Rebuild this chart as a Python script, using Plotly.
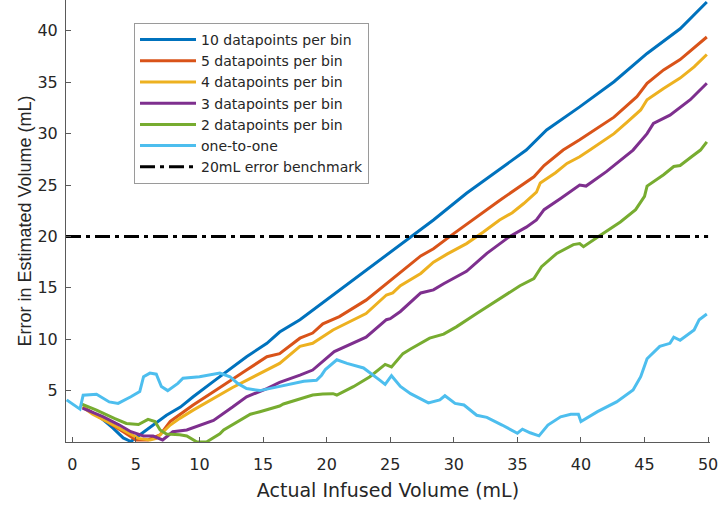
import plotly.graph_objects as go

# ---- data ----
x_10 = [0.8, 2.2, 3.2, 4.0, 4.6, 5.2, 6.1, 7.4, 8.5, 9.5, 11.1, 12.6, 13.7, 15.3, 16.3, 17.9,
        20.5, 23.1, 25.2, 26.6, 28.4, 31.0, 33.6, 35.7, 37.3, 39.9, 42.6, 45.2, 47.8, 49.9]
y_10 = [3.4, 2.4, 1.35, 0.4, 0.05, 0.6, 1.35, 2.6, 3.4, 4.4, 5.9, 7.3, 8.3, 9.6, 10.7, 11.9,
        14.3, 16.7, 18.7, 20.0, 21.6, 24.2, 26.5, 28.4, 30.35, 32.6, 35.05, 37.8, 40.2, 42.8]

x_5 = [0.8, 1.6, 4.0, 5.0, 5.95, 6.9, 7.7, 8.45, 9.5, 11.1, 12.6, 13.7, 15.3, 16.3, 17.9, 18.9,
       19.7, 21.0, 23.1, 25.2, 27.4, 28.4, 29.8, 33.6, 36.3, 37.1, 38.6, 39.9, 42.6, 44.4, 45.2,
       46.5, 47.8, 49.9]
y_5 = [3.4, 2.85, 1.0, 0.2, 0.2, 0.7, 2.0, 2.7, 3.6, 4.9, 6.15, 7.0, 8.3, 8.6, 10.1, 10.6,
       11.5, 12.2, 13.8, 15.9, 18.1, 18.8, 20.1, 23.5, 25.8, 26.9, 28.4, 29.4, 31.6, 33.6, 34.9,
       36.2, 37.2, 39.4]

x_4 = [0.8, 1.6, 3.0, 4.25, 5.2, 6.1, 6.6, 7.7, 8.45, 9.5, 11.1, 12.6, 13.7, 15.0, 16.3, 17.9,
       18.9, 20.5, 22.1, 23.1, 24.7, 25.2, 25.8, 27.4, 28.4, 29.5, 31.0, 32.3, 33.6, 34.6, 35.5,
       36.5, 36.8, 38.0, 38.9, 39.9, 40.7, 41.6, 42.6, 43.7, 44.7, 45.2, 46.5, 47.8, 48.9, 49.9]
y_4 = [3.4, 2.7, 1.8, 1.0, 0.35, 0.2, 0.35, 1.65, 2.3, 3.1, 4.25, 5.3, 6.0, 6.8, 7.65, 9.3,
       9.6, 10.9, 11.9, 12.5, 14.3, 14.5, 15.2, 16.4, 17.5, 18.3, 19.3, 20.4, 21.6, 22.3, 23.2,
       24.3, 25.2, 26.2, 27.1, 27.75, 28.4, 29.2, 30.0, 31.2, 32.3, 33.3, 34.4, 35.4, 36.5, 37.7]

x_3 = [0.8, 2.4, 3.7, 4.6, 5.6, 6.35, 7.1, 7.9, 9.0, 10.0, 11.1, 12.6, 13.7, 15.3, 16.3, 17.9,
       18.9, 20.6, 22.6, 23.1, 24.7, 25.0, 25.8, 27.4, 28.4, 29.2, 31.0, 32.6, 34.4, 35.7, 36.5,
       37.1, 38.4, 39.9, 40.4, 42.0, 44.1, 45.2, 45.7, 47.0, 48.6, 49.9]
y_3 = [3.3, 2.46, 1.65, 1.0, 0.58, 0.58, 0.2, 1.0, 1.17, 1.65, 2.1, 3.4, 4.4, 5.2, 5.8, 6.5,
       7.0, 8.8, 9.9, 10.2, 11.9, 12.0, 12.7, 14.5, 14.8, 15.4, 16.6, 18.35, 20.0, 20.9, 21.6,
       22.6, 23.7, 25.0, 24.9, 26.3, 28.4, 30.0, 31.0, 31.8, 33.3, 34.9]

x_2 = [0.7, 1.9, 3.3, 4.25, 5.2, 5.95, 6.5, 6.9, 7.4, 8.45, 9.0, 9.8, 10.55, 11.6, 11.9, 13.7,
       14.0, 14.75, 16.3, 16.6, 18.9, 19.7, 20.5, 20.8, 21.8, 22.1, 23.4, 24.6, 25.1, 26.0, 26.6,
       28.1, 29.2, 30.2, 31.8, 33.4, 35.2, 36.3, 36.9, 38.1, 39.4, 39.9, 40.2, 41.5, 43.1, 44.3,
       45.0, 45.2, 46.5, 47.3, 47.8, 48.7, 49.4, 49.9]
y_2 = [3.7, 3.1, 2.3, 1.8, 1.7, 2.2, 2.0, 1.17, 0.78, 0.7, 0.58, 0.0, 0.0, 0.8, 1.17, 2.46,
       2.7, 2.95, 3.5, 3.7, 4.57, 4.67, 4.7, 4.57, 5.25, 5.38, 6.35, 7.55, 7.3, 8.6, 9.05,
       10.1, 10.5, 11.2, 12.5, 13.8, 15.2, 15.9, 17.05, 18.35, 19.2, 19.3, 19.0, 20.1, 21.4, 22.6,
       23.9, 24.9, 26.0, 26.8, 26.9, 27.75, 28.4, 29.2]

x_1 = [-0.45, 0.6, 0.85, 1.9, 2.9, 3.6, 4.6, 5.3, 5.6, 6.1, 6.6, 7.0, 7.5, 8.3, 8.7, 10.0, 11.6,
       12.4, 13.0, 13.7, 14.75, 16.3, 18.2, 19.2, 19.6, 19.9, 20.8, 21.6, 22.9, 24.2, 24.6, 25.1,
       25.8, 26.6, 28.0, 28.9, 29.3, 30.1, 30.8, 31.8, 32.6, 33.8, 35.0, 35.4, 36.0, 36.7, 37.4,
       38.4, 39.2, 39.8, 40.0, 41.3, 42.8, 44.1, 44.7, 45.2, 46.2, 47.0, 47.3, 47.8, 48.9, 49.3, 49.9]
y_1 = [4.1, 3.2, 4.55, 4.65, 3.9, 3.75, 4.4, 4.9, 6.35, 6.7, 6.6, 5.4, 5.0, 5.7, 6.2, 6.35, 6.7,
       6.35, 5.7, 5.2, 5.0, 5.4, 5.9, 6.0, 6.5, 7.05, 8.0, 7.65, 7.2, 6.0, 5.6, 6.45,
       5.4, 4.7, 3.8, 4.1, 4.5, 3.75, 3.6, 2.6, 2.4, 1.65, 0.85, 1.25, 0.9, 0.6, 1.65,
       2.45, 2.7, 2.7, 2.0, 2.95, 3.9, 5.05, 6.35, 8.1, 9.3, 9.6, 10.2, 9.9, 10.9, 11.9, 12.45]

bench_x = [-0.5, 50]
bench_y = [20, 20]

x_ticks = [0, 5, 10, 15, 20, 25, 30, 35, 40, 45, 50]
y_ticks = [5, 10, 15, 20, 25, 30, 35, 40]

series = [
    ("10 datapoints per bin", x_10, y_10, "#0072BD"),
    ("5 datapoints per bin", x_5, y_5, "#D95319"),
    ("4 datapoints per bin", x_4, y_4, "#EDB120"),
    ("3 datapoints per bin", x_3, y_3, "#7E2F8E"),
    ("2 datapoints per bin", x_2, y_2, "#77AC30"),
    ("one-to-one", x_1, y_1, "#4DBEEE"),
]

fig = go.Figure()
for name, xs, ys, col in series:
    fig.add_trace(go.Scatter(x=xs, y=ys, mode="lines", name=name,
                             line=dict(color=col, width=3)))
fig.add_trace(go.Scatter(x=bench_x, y=bench_y, mode="lines", name="20mL error benchmark",
                         line=dict(color="black", width=3, dash="15px,5px,4px,5px")))

axis_col = "#5a5a5a"
text_col = "#262626"
fig.update_layout(
    width=722, height=508,
    margin=dict(l=66, r=12, t=0, b=66, autoexpand=False),
    paper_bgcolor="white", plot_bgcolor="white",
    font=dict(family="DejaVu Sans", color=text_col),
    showlegend=True,
    legend=dict(x=0.1056, y=0.948, xanchor="left", yanchor="top",
                bgcolor="white", bordercolor="#9a9a9a", borderwidth=1,
                font=dict(family="DejaVu Sans", size=14, color=text_col),
                itemwidth=56, tracegroupgap=0),
    xaxis=dict(range=[-0.5, 50.15], tickvals=x_ticks, ticktext=[str(v) for v in x_ticks],
               automargin=False,
               showgrid=False, zeroline=False, showline=True, linecolor=axis_col, linewidth=1,
               ticks="inside", ticklen=5, tickcolor=axis_col, ticklabelstandoff=8,
               tickfont=dict(family="DejaVu Sans", size=16, color=text_col),
               title=dict(text="Actual Infused Volume (mL)", standoff=10,
                          font=dict(family="DejaVu Sans", size=19, color=text_col))),
    yaxis=dict(range=[0, 43], tickvals=y_ticks, ticktext=[str(v) for v in y_ticks],
               automargin=False,
               showgrid=False, zeroline=False, showline=True, linecolor=axis_col, linewidth=1,
               ticks="inside", ticklen=5, tickcolor=axis_col, ticklabelstandoff=4,
               tickfont=dict(family="DejaVu Sans", size=16, color=text_col),
               title=dict(text="Error in Estimated Volume (mL)", standoff=1,
                          font=dict(family="Liberation Sans", size=18, color=text_col))),
)

fig.write_html("out.html",
               config={"displayModeBar": False},
               post_script="document.body.style.margin='0';document.body.style.padding='0';")
